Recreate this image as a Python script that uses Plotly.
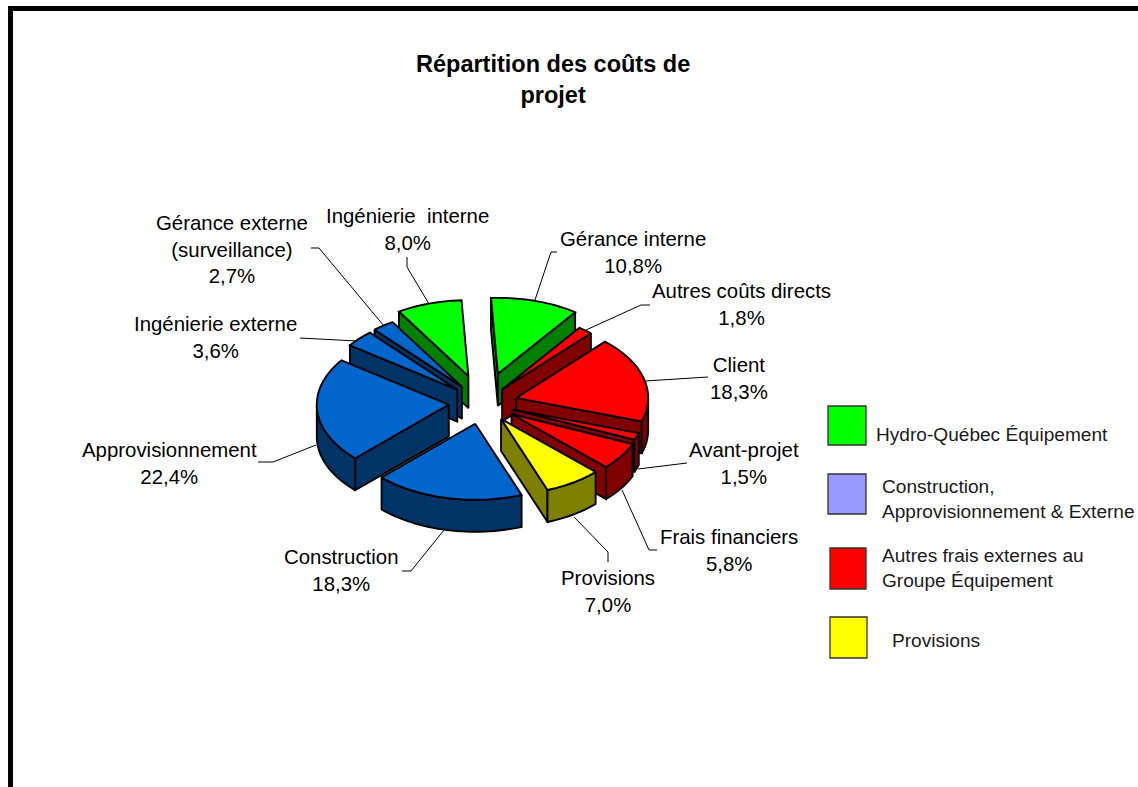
import math
import plotly.graph_objects as go

# --- data ---
categories = ["Gérance interne", "Autres coûts directs", "Client", "Avant-projet", "Frais financiers",
              "Provisions", "Construction", "Approvisionnement", "Ingénierie externe",
              "Gérance externe (surveillance)", "Ingénierie  interne"]
values = [10.8, 1.8, 18.3, 1.5, 5.8, 7.0, 18.3, 22.4, 3.6, 2.7, 8.0]
groups = ["hq", "autres", "autres", "autres", "autres", "prov", "ext", "ext", "ext", "ext", "hq"]
pulls = [0.40, 0.23, 0.26, 0.245, 0.26, 0.25, 0.28, 0.26, 0.263, 0.268, 0.37]

legend_groups = ["hq", "ext", "autres", "prov"]
legend_labels = ["Hydro-Québec Équipement", "Construction,<br>Approvisionnement & Externe",
                 "Autres frais externes au<br>Groupe Équipement", "Provisions"]

# --- styles ---
TOP = {"hq": "#00FF00", "ext": "#0066CC", "autres": "#FF0000", "prov": "#FFFF00"}
WALL = {"hq": "#008000", "ext": "#003366", "autres": "#800000", "prov": "#808000"}
SWATCH = {"hq": "#00FF00", "ext": "#9999FF", "autres": "#FF0000", "prov": "#FFFF00"}
FONT = "Liberation Sans, Arial, sans-serif"
CX, CY, RX, RY, DEPTH, START = 483, 403, 132, 76, 32, -3.0

label_pos = [(633, 252, "Gérance interne<br>10,8%"), (741, 304, "Autres coûts directs<br>1,8%"),
             (739, 378, "Client<br>18,3%"), (744, 463, "Avant-projet<br>1,5%"),
             (729, 550, "Frais financiers<br>5,8%"), (608, 591, "Provisions<br>7,0%"),
             (341, 570, "Construction<br>18,3%"), (169, 463, "Approvisionnement<br>22,4%"),
             (215, 337, "Ingénierie externe<br>3,6%"), (232, 249, "Gérance externe<br>(surveillance)<br>2,7%"),
             (407, 229, "Ingénierie  interne<br>8,0%")]
leaders = [[(535, 300), (551, 252), (557, 252)], [(586, 330), (641, 305), (650, 305)],
           [(645, 381), (708, 377)], [(638, 469), (682, 463), (687, 463)],
           [(622, 490), (649, 550), (657, 550)], [(574, 517), (608, 552), (608, 562)],
           [(444, 530), (411, 571), (402, 571)], [(316, 445), (273, 462), (258, 462)],
           [(357, 341), (300, 338)], [(384, 326), (319, 248), (311, 248)],
           [(429, 304), (407, 267), (407, 257)]]

total = sum(values)
fig = go.Figure()


def polygon(points, fill):
    xs = [p[0] for p in points] + [points[0][0]]
    ys = [p[1] for p in points] + [points[0][1]]
    fig.add_trace(go.Scatter(x=xs, y=ys, mode="lines", fill="toself", fillcolor=fill,
                             line=dict(color="#000000", width=1.9, simplify=False),
                             hoverinfo="skip", showlegend=False))


slices = []
angle = START
for name, val, grp, pull in zip(categories, values, groups, pulls):
    sweep = val / total * 360
    slices.append((angle, angle + sweep, grp, pull))
    angle += sweep


def point(ax, ay, deg):
    t = math.radians(deg)
    return (ax + RX * math.sin(t), ay - RY * math.cos(t))


def down(p):
    return (p[0], p[1] + DEPTH)


def arc_points(ax, ay, d0, d1):
    n = max(3, int((d1 - d0) / 2))
    return [point(ax, ay, d0 + (d1 - d0) * i / n) for i in range(n + 1)]


# back slices first, so that nearer ones paint over them
for a0, a1, grp, pull in sorted(slices, key=lambda s: -math.cos(math.radians((s[0] + s[1]) / 2))):
    mid = math.radians((a0 + a1) / 2)
    ax = CX + pull * RX * math.sin(mid)
    ay = CY - pull * RY * math.cos(mid)
    apex = (ax, ay)
    if math.sin(math.radians(a0)) < 0:
        e = point(ax, ay, a0)
        polygon([apex, e, down(e), down(apex)], WALL[grp])
    if math.sin(math.radians(a1)) > 0:
        e = point(ax, ay, a1)
        polygon([apex, e, down(e), down(apex)], WALL[grp])
    f0, f1 = max(a0, 90), min(a1, 270)
    if f1 > f0:
        front = arc_points(ax, ay, f0, f1)
        polygon(front + [down(p) for p in reversed(front)], WALL[grp])
    polygon([apex] + arc_points(ax, ay, a0, a1), TOP[grp])

# leader lines
for pts in leaders:
    fig.add_trace(go.Scatter(x=[p[0] for p in pts], y=[p[1] for p in pts], mode="lines",
                             line=dict(color="#000000", width=1), hoverinfo="skip", showlegend=False))

annotations = []
for x, y, text in label_pos:
    annotations.append(dict(x=x, y=y, text=text, showarrow=False, xanchor="center", yanchor="middle",
                            font=dict(family=FONT, size=20.4, color="#000000")))
annotations.append(dict(x=553, y=79, text="<b>Répartition des coûts de<br>projet</b>", showarrow=False,
                        xanchor="center", yanchor="middle", font=dict(family=FONT, size=23.5, color="#000000")))
legend_text_pos = [(874, 434), (880, 499), (880, 568), (890, 640)]
for (x, y), text in zip(legend_text_pos, legend_labels):
    annotations.append(dict(x=x, y=y, text=text, showarrow=False, xanchor="left", yanchor="middle", align="left",
                            font=dict(family=FONT, size=19.1, color="#1a1a1a")))

shapes = [
    dict(type="rect", x0=8, x1=13, y0=6, y1=787, fillcolor="#000000", line=dict(width=0), layer="below"),
    dict(type="rect", x0=8, x1=1138, y0=6, y1=11, fillcolor="#000000", line=dict(width=0), layer="below"),
]
swatch_boxes = [(828, 866, 406, 445), (828, 866, 474, 514), (830, 866, 548, 589), (830, 867, 617, 658)]
for grp, (x0, x1, y0, y1) in zip(legend_groups, swatch_boxes):
    shapes.append(dict(type="rect", x0=x0, x1=x1, y0=y0, y1=y1, fillcolor=SWATCH[grp],
                       line=dict(color="#333333", width=1.3)))

fig.update_layout(
    width=1138, height=787, margin=dict(l=0, r=0, t=0, b=0), paper_bgcolor="#FFFFFF", plot_bgcolor="#FFFFFF",
    xaxis=dict(range=[0, 1138], visible=False, fixedrange=True),
    yaxis=dict(range=[787, 0], visible=False, fixedrange=True),
    annotations=annotations, shapes=shapes, showlegend=False,
)
fig.write_html("out.html", config={"displayModeBar": False},
               post_script="document.body.style.margin='0';document.body.style.overflow='hidden';")
